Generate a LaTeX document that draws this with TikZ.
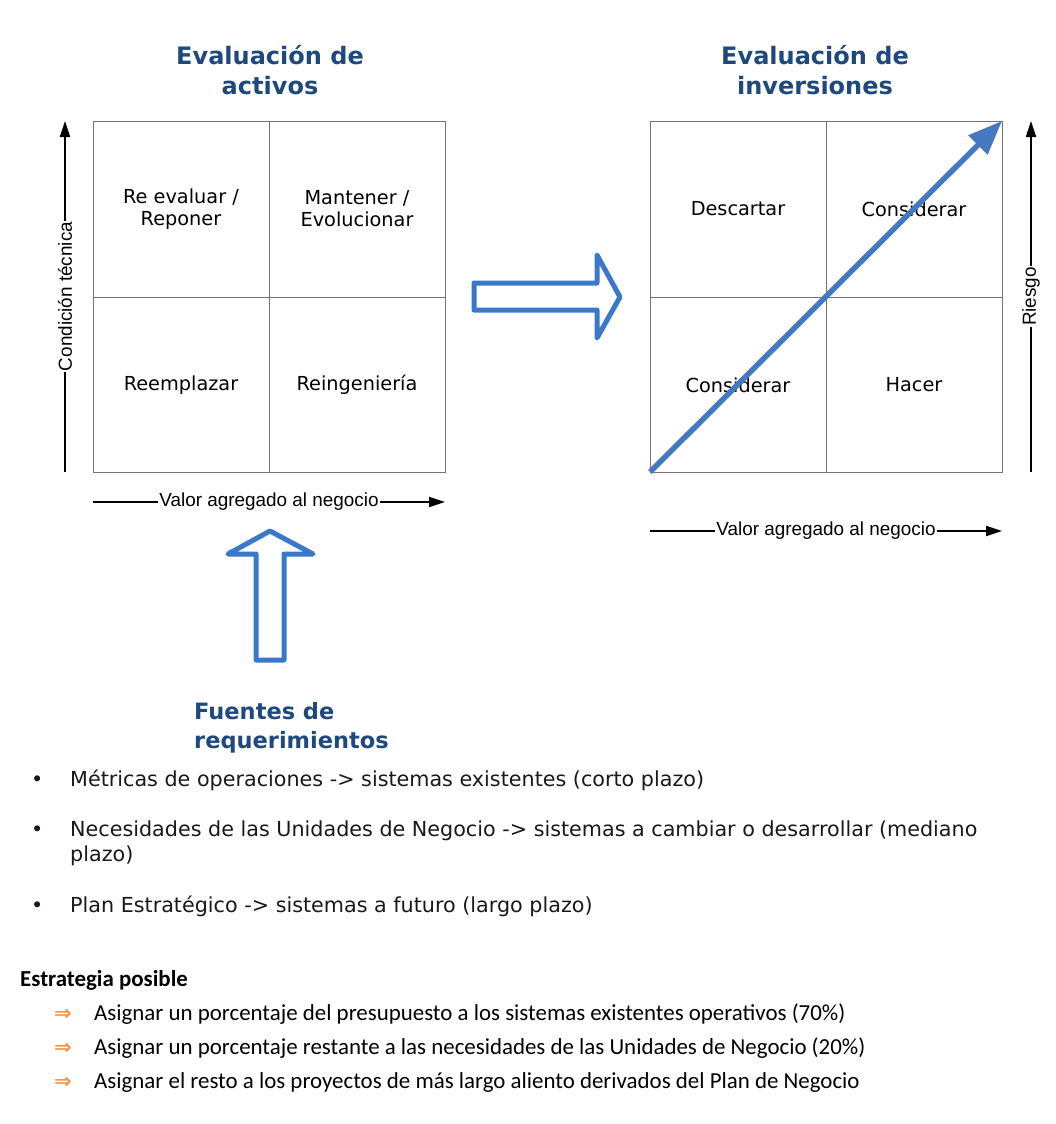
\documentclass[tikz,border=0pt]{standalone}
\usepackage{fontspec}
\setmainfont{DejaVu Sans}
\newfontfamily\arialfont{Liberation Sans}
\newfontfamily\calibrifont{Carlito}
\usepackage{tikz}
\usetikzlibrary{arrows.meta, calc}
\usepackage{xcolor}
\definecolor{titleblue}{RGB}{31,73,125}
\definecolor{outlineblue}{RGB}{58,120,202}
\definecolor{diagblue}{RGB}{70,120,192}
\definecolor{markorange}{RGB}{242,148,70}

\begin{document}
\begin{tikzpicture}[x=1pt, y=-1pt,
	title/.style={font=\fontsize{24}{30}\selectfont\bfseries, text=titleblue, align=center},
	cell/.style={font=\fontsize{19.3}{22}\selectfont, align=center},
	axislabel/.style={font=\arialfont\fontsize{18.9}{20}\selectfont, fill=white, inner sep=1pt},
	axisline/.style={line width=1.8pt, -{Triangle[length=16pt, width=10pt]}},
	gridline/.style={draw=black!55, line width=0.9pt},
	hollow/.style={draw=outlineblue, line width=5pt, line join=round, fill=white},
	item/.style={anchor=base west, inner sep=0pt, font=\fontsize{20.7}{25}\selectfont, text=black!90},
	plan/.style={anchor=base west, inner sep=0pt, font=\calibrifont\fontsize{22.9}{25}\selectfont}]
	\useasboundingbox (0,0) rectangle (1056,1124);
	% evaluacion de activos
	\coordinate (A1) at (93,121);
	\coordinate (A2) at (445,472);
	\coordinate (Am) at (269,297);
	\draw [gridline] (A1) rectangle (A2);
	\draw [gridline] (A1 -| Am) -- (A2 -| Am);
	\draw [gridline] (A1 |- Am) -- (A2 |- Am);
	\node [title] (tA) at (270,70) {Evaluación de\\activos};
	\node [cell] (a11) at (181,209) {Re evaluar /\\Reponer};
	\node [cell] (a12) at (357,209) {Mantener /\\Evolucionar};
	\node [cell] (a21) at (181,385) {Reemplazar};
	\node [cell] (a22) at (357,385) {Reingeniería};
	\coordinate (yA0) at (65,472);
	\coordinate (yA1) at (65,121);
	\draw [axisline] (yA0) -- (yA1) node [midway, axislabel, rotate=90] (yAl) {Condición técnica};
	\coordinate (xA0) at (93,502);
	\coordinate (xA1) at (445,502);
	\draw [axisline] (xA0) -- (xA1) node [midway, axislabel] (xAl) {Valor agregado al negocio};
	% evaluacion de inversiones
	\coordinate (B1) at (650,121);
	\coordinate (B2) at (1002,472);
	\coordinate (Bm) at (826,297);
	\draw [gridline] (B1) rectangle (B2);
	\draw [gridline] (B1 -| Bm) -- (B2 -| Bm);
	\draw [gridline] (B1 |- Bm) -- (B2 |- Bm);
	\node [title] (tB) at (815,70) {Evaluación de\\inversiones};
	\node [cell] (b11) at (738,209) {Descartar};
	\node [cell] (b12) at (914,209) {Considerar};
	\node [cell] (b21) at (738,385) {Considerar};
	\node [cell] (b22) at (914,385) {Hacer};
	\draw [diagblue, line width=5.5pt, -{Triangle[length=34pt, width=26pt]}] (B1 |- B2) -- (B2 |- B1);
	\coordinate (yB0) at (1031,472);
	\coordinate (yB1) at (1031,121);
	\draw [axisline] (yB0) -- (yB1) node [midway, axislabel, rotate=90] (yBl) {Riesgo};
	\coordinate (xB0) at (650,531);
	\coordinate (xB1) at (1002,531);
	\draw [axisline] (xB0) -- (xB1) node [midway, axislabel] (xBl) {Valor agregado al negocio};
	% flechas huecas
	\draw [hollow] (474,283) -- (597,283) -- (597,255) -- (620,297) -- (597,338) -- (597,310) -- (474,310) -- cycle;
	\draw [hollow] (270,531) -- (313,554) -- (284,554) -- (284,660) -- (256,660) -- (256,554) -- (228,554) -- cycle;
%	\fill (Am) circle (2pt);
	% fuentes de requerimientos
	\node [title, font=\fontsize{22.5}{29}\selectfont\bfseries, align=left, anchor=north west, inner sep=0pt] (tF) at (194,702) {Fuentes de\\requerimientos};
	\foreach \yy/\nm in {786/m1, 836/m2, 912/m3}
		\node [item] (\nm) at (31,\yy) {•};
	\node [item] (f1) at (70,786) {Métricas de operaciones -> sistemas existentes (corto plazo)};
	\node [item] (f2) at (70,836) {Necesidades de las Unidades de Negocio -> sistemas a cambiar o desarrollar (mediano};
	\node [item] (f2b) at (70,861) {plazo)};
	\node [item] (f3) at (70,912) {Plan Estratégico -> sistemas a futuro (largo plazo)};
	% estrategia posible
	\node [plan, font=\calibrifont\bfseries\fontsize{22.9}{25}\selectfont] (tE) at (20,986) {Estrategia posible};
	\foreach \yy/\nm in {1020/p1, 1054/p2, 1088/p3}
		\node [plan, font=\bfseries\fontsize{21}{24}\selectfont, text=markorange] (\nm) at (54,\yy) {⇒};
	\node [plan] (e1) at (94,1020) {Asignar un porcentaje del presupuesto a los sistemas existentes operativos (70\%)};
	\node [plan] (e2) at (94,1054) {Asignar un porcentaje restante a las necesidades de las Unidades de Negocio (20\%)};
	\node [plan] (e3) at (94,1088) {Asignar el resto a los proyectos de más largo aliento derivados del Plan de Negocio};
\end{tikzpicture}
\end{document}
